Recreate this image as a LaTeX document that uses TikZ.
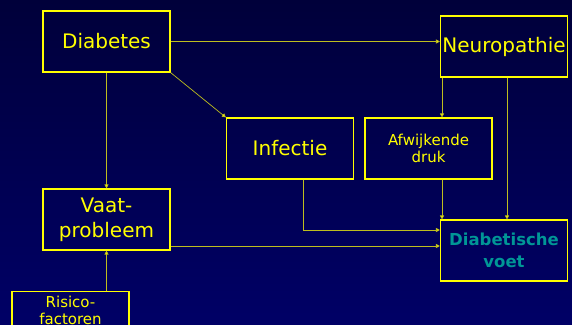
\documentclass[tikz,border=0pt]{standalone}
\usepackage{fontspec}
\setmainfont{DejaVu Sans}
\usetikzlibrary{arrows.meta}
\definecolor{bgtop}{RGB}{0,0,58}
\definecolor{bgbot}{RGB}{0,0,102}
\definecolor{boxyellow}{RGB}{255,255,0}
\definecolor{connyellow}{RGB}{190,190,30}
\definecolor{teal}{RGB}{0,150,150}
\begin{document}
\begin{tikzpicture}[x=1pt,y=-1pt,
  box/.style={draw=boxyellow, line width=1.1pt, minimum width=127pt, minimum height=61pt,
    inner sep=0pt, align=center, text=boxyellow, font=\fontsize{20}{25}\selectfont},
  smallbox/.style={box, font=\fontsize{15}{17}\selectfont},
  conn/.style={draw=connyellow, line width=0.7pt, -{Triangle[length=4pt,width=4pt,fill=boxyellow]}},
  plain/.style={draw=connyellow, line width=0.7pt}]
\shade[top color=bgtop, bottom color=bgbot] (0,0) rectangle (572,324);
\useasboundingbox (0,0) rectangle (572,324);
\clip (0,0) rectangle (572,324);
\node[box] (diab) at (106.5,41.5) {Diabetes};
\node[box] (neu) at (504,46.5) {Neuropathie};
\node[box] (inf) at (290,148.5) {Infectie};
\node[smallbox] (afw) at (428.5,148.5) {Afwijkende\\druk};
\node[box] (vaat) at (106.5,219.5) {Vaat-\\probleem};
\node[box, text=teal, font=\fontsize{16.5}{22}\selectfont\bfseries] (dv) at (504,250.5) {Diabetische\\voet};
\node[smallbox, minimum width=117pt, minimum height=50pt, anchor=north, inner sep=2pt] (ris) at (70.5,291) {Risico-\\factoren\\[-4pt]};
\coordinate (x1) at (442,0);
\coordinate (x2) at (507,0);
\coordinate (p) at (303,230);
\coordinate (q) at (0,246);
\draw[conn] (diab.east) -- (diab.east -| neu.west);
\draw[conn] (diab.south east) -- (inf.north west);
\draw[conn] (diab.south) -- (vaat.north);
\draw[conn] (x1 |- neu.south) -- (x1 |- afw.north);
\draw[conn] (x2 |- neu.south) -- (x2 |- dv.north);
\draw[conn] (x1 |- afw.south) -- (x1 |- dv.north);
\draw[conn] (inf.south -| p) |- (dv.west |- p);
\draw[conn] (vaat.east |- q) -- (dv.west |- q);
\draw[conn] (vaat.south |- ris.north) -- (vaat.south);
\end{tikzpicture}
\end{document}
